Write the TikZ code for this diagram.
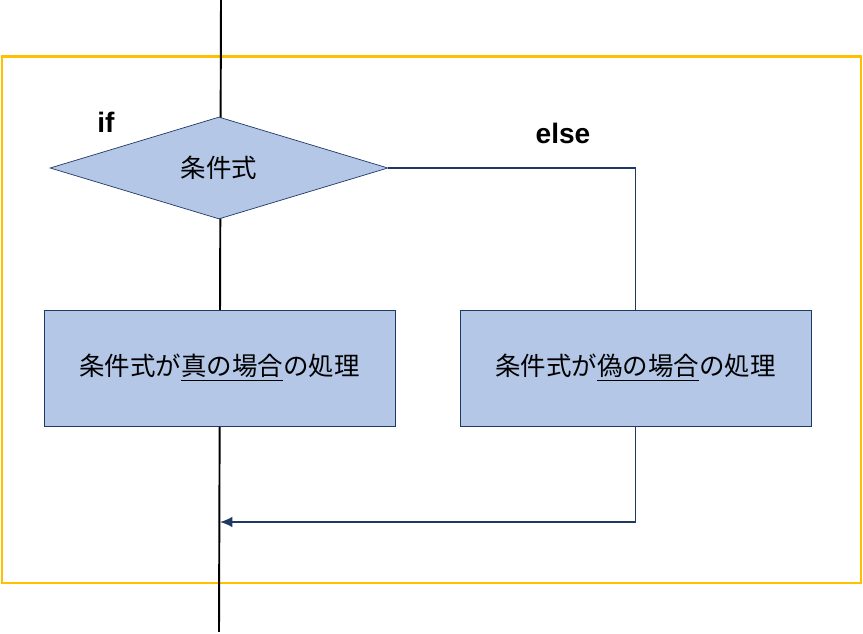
\documentclass[tikz,border=0pt]{standalone}
\usepackage{fontspec}
\setmainfont{Liberation Sans}
\newfontfamily\jpfont{Noto Sans CJK JP}
\usetikzlibrary{shapes.geometric,arrows.meta}
\definecolor{boxfill}{HTML}{B4C7E7}
\definecolor{boxline}{HTML}{203864}
\definecolor{frameorange}{HTML}{FFC000}

\begin{document}
\begin{tikzpicture}[x=0.02cm,y=-0.02cm,
  cond/.style={diamond,draw=boxline,fill=boxfill,aspect=3.3,inner sep=0pt,
    minimum width=6.76cm,minimum height=2.04cm,font=\jpfont\fontsize{14.5}{17}\selectfont},
  proc/.style={rectangle,draw=boxline,fill=boxfill,minimum width=7.02cm,
    minimum height=2.32cm,font=\jpfont\fontsize{14.5}{17}\selectfont},
  flow/.style={draw=boxline,line width=0.9pt},
  tag/.style={font=\bfseries\fontsize{16}{19}\selectfont}]
  \useasboundingbox (0,0) rectangle (863,634);
  \draw[frameorange,line width=1.7pt] (2,57) rectangle (861,583);
  % main line
  \coordinate (top) at (221,0);
  \coordinate (bottom) at (219,632);
  \draw[line width=1.1pt] (top) -- (bottom);
  \node[cond] (cond) at (219,168) {条件式};
  \node[proc] (truebox) at (219.5,368) {条件式が\underline{真の場合}の処理};
  \node[proc] (falsebox) at (635.5,368) {条件式が\underline{偽の場合}の処理};
  \node[tag] (iflabel) at (106,122) {if};
  \node[tag] (elselabel) at (563,133) {else};
  % else branch
  \coordinate (merge) at (220,522);
  \draw[flow] (cond.east) -| (falsebox.north);
  \draw[flow,-{Latex[length=7pt,width=6pt]}] (falsebox.south) |- (merge);
\end{tikzpicture}
\end{document}
